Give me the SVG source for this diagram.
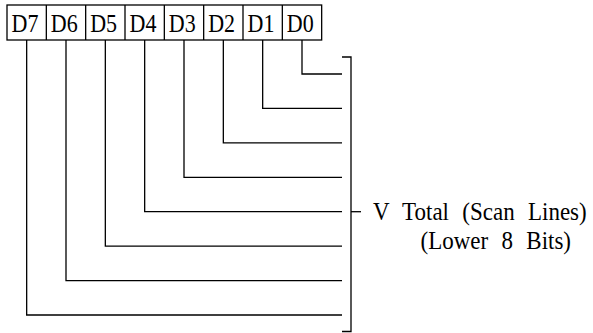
<svg xmlns="http://www.w3.org/2000/svg" width="593" height="333" viewBox="0 0 593 333">
<style>
.ln{fill:none;stroke:#000;stroke-width:1.3;}
text{font-family:'Liberation Serif','Times New Roman',serif;fill:#000;}
.bit{font-size:22px;}
.note{font-size:23px;word-spacing:7.6px;}
</style>
<rect width="593" height="333" fill="#fff"/>
<g id="register">
<rect class="ln" x="7" y="5" width="314.67" height="35"/>
<path class="ln" d="M46.33 5V40M85.67 5V40M125 5V40M164.33 5V40M203.67 5V40M243 5V40M282.33 5V40"/>
<text class="bit" transform="translate(11.5,32) scale(1,1.12)">D7</text>
<text class="bit" transform="translate(50.8,32) scale(1,1.12)">D6</text>
<text class="bit" transform="translate(90.2,32) scale(1,1.12)">D5</text>
<text class="bit" transform="translate(129.5,32) scale(1,1.12)">D4</text>
<text class="bit" transform="translate(168.8,32) scale(1,1.12)">D3</text>
<text class="bit" transform="translate(208.2,32) scale(1,1.12)">D2</text>
<text class="bit" transform="translate(247.5,32) scale(1,1.12)">D1</text>
<text class="bit" transform="translate(286.8,32) scale(1,1.12)">D0</text>
</g>
<g id="connectors">
<polyline class="ln" points="302,40 302,74 342,74"/>
<polyline class="ln" points="262.67,40 262.67,108.4 342,108.4"/>
<polyline class="ln" points="223.33,40 223.33,142.9 342,142.9"/>
<polyline class="ln" points="184,40 184,177.3 342,177.3"/>
<polyline class="ln" points="144.67,40 144.67,211.7 342,211.7"/>
<polyline class="ln" points="105.33,40 105.33,246.1 342,246.1"/>
<polyline class="ln" points="66,40 66,280.6 342,280.6"/>
<polyline class="ln" points="26.67,40 26.67,315 342,315"/>
</g>
<g id="bracket">
<polyline class="ln" points="342,57 351,57 351,331.5 342,331.5"/>
<line class="ln" x1="351" y1="211.7" x2="361" y2="211.7"/>
</g>
<g id="label">
<text class="note" transform="translate(373,220) scale(1,1.1)">V Total (Scan Lines)</text>
<text class="note" transform="translate(420.5,249) scale(1,1.1)">(Lower 8 Bits)</text>
</g>
</svg>
